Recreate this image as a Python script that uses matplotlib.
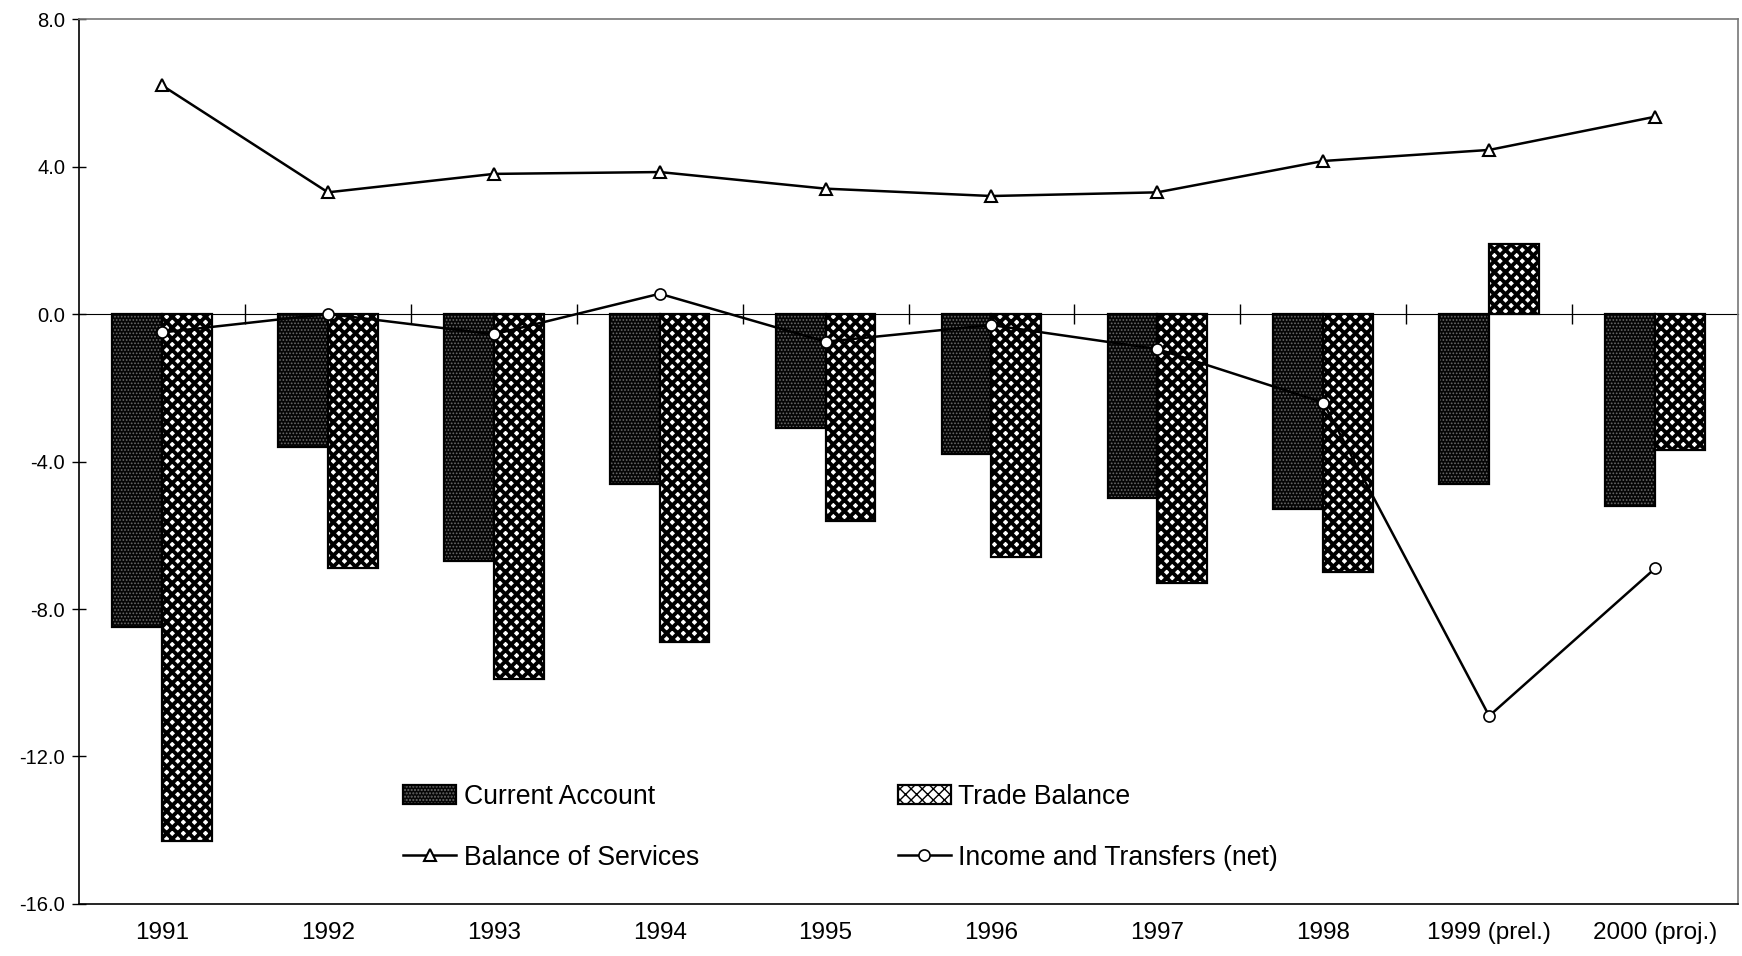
"""Current account, trade balance, services and income/transfers, 1991-2000."""

import numpy as np
import matplotlib
matplotlib.use("Agg")
import matplotlib.pyplot as plt
from matplotlib.legend_handler import HandlerTuple

# --- data ---
YEARS = ["1991", "1992", "1993", "1994", "1995", "1996", "1997", "1998",
         "1999 (prel.)", "2000 (proj.)"]
CURRENT_ACCOUNT = [-8.5, -3.6, -6.7, -4.6, -3.1, -3.8, -5.0, -5.3, -4.6, -5.2]
TRADE_BALANCE = [-14.3, -6.9, -9.9, -8.9, -5.6, -6.6, -7.3, -7.0, 1.9, -3.7]
SERVICES = [6.2, 3.3, 3.8, 3.85, 3.4, 3.2, 3.3, 4.15, 4.45, 5.35]
INCOME_TRANSFERS = [-0.5, 0.0, -0.55, 0.55, -0.75, -0.3, -0.95, -2.4, -10.9, -6.9]
Y_TICKS = [-16.0, -12.0, -8.0, -4.0, 0.0, 4.0, 8.0]
# -------------------------------------

plt.rcParams["font.family"] = ["Liberation Sans", "DejaVu Sans"]

W = 0.3
x = np.arange(len(YEARS))

fig = plt.figure(figsize=(17.42, 9.56), dpi=100)
ax = fig.add_axes([0.0454, 0.0544, 0.9523, 0.9257])

# bars: hatch layer + black outline layer
with plt.rc_context({"hatch.linewidth": 0.8}):
    ca_fill = ax.bar(x - W / 2, CURRENT_ACCOUNT, W, facecolor="#050505",
                     edgecolor="#6a6a6a", hatch=".....", linewidth=0,
                     zorder=2)
ca_edge = ax.bar(x - W / 2, CURRENT_ACCOUNT, W, fill=False,
                 edgecolor="black", linewidth=1.6, zorder=2.1)
with plt.rc_context({"hatch.linewidth": 2.8}):
    tb_fill = ax.bar(x + W / 2, TRADE_BALANCE, W, facecolor="white",
                     edgecolor="black", hatch="xxx", linewidth=0, zorder=2)
tb_edge = ax.bar(x + W / 2, TRADE_BALANCE, W, fill=False,
                 edgecolor="black", linewidth=1.6, zorder=2.1)

l_serv, = ax.plot(x, SERVICES, color="black", lw=1.8, marker="^", ms=8,
                  mfc="white", mec="black", mew=1.5, zorder=3)
l_inc, = ax.plot(x, INCOME_TRANSFERS, color="black", lw=1.8, marker="o", ms=8,
                 mfc="white", mec="black", mew=1.2, zorder=3)

ax.set_xlim(-0.5, len(YEARS) - 0.5)
ax.set_ylim(-16, 8)
ax.set_yticks(Y_TICKS)
ax.set_yticklabels([f"{v:.1f}" for v in Y_TICKS], fontsize=14.5)
ax.set_xticks(x)
ax.set_xticklabels(YEARS, fontsize=17.5)
ax.tick_params(axis="x", length=0, pad=13)
ax.tick_params(axis="y", direction="inout", length=10, width=1, pad=5)

for s in ("left", "bottom"):
    ax.spines[s].set_color("black")
    ax.spines[s].set_linewidth(1.2)
for s in ("top", "right"):
    ax.spines[s].set_color("#777777")
    ax.spines[s].set_linewidth(1.2)

# category axis crossing at zero, with tick marks between categories
zero_ax = ax.secondary_xaxis(16 / 24)
zero_ax.set_xticks(np.arange(0.5, len(YEARS) - 1, 1.0))
zero_ax.tick_params(direction="inout", length=14, width=1, labelbottom=False,
                    labeltop=False)
zero_ax.spines["bottom"].set_linewidth(1.2)

leg = ax.legend(
    [(ca_fill, ca_edge), l_serv, (tb_fill, tb_edge), l_inc],
    ["Current Account", "Balance of Services", "Trade Balance",
     "Income and Transfers (net)"],
    handler_map={tuple: HandlerTuple(ndivide=1, pad=0)},
    ncol=2, frameon=False, fontsize=19.2, loc="upper left",
    bbox_to_anchor=(0.1953, 0.136), borderaxespad=0, borderpad=0,
    handlelength=2.0, handleheight=0.75, handletextpad=0.27,
    labelspacing=1.31, columnspacing=7.45,
)

fig.savefig("out.png", dpi=100)
